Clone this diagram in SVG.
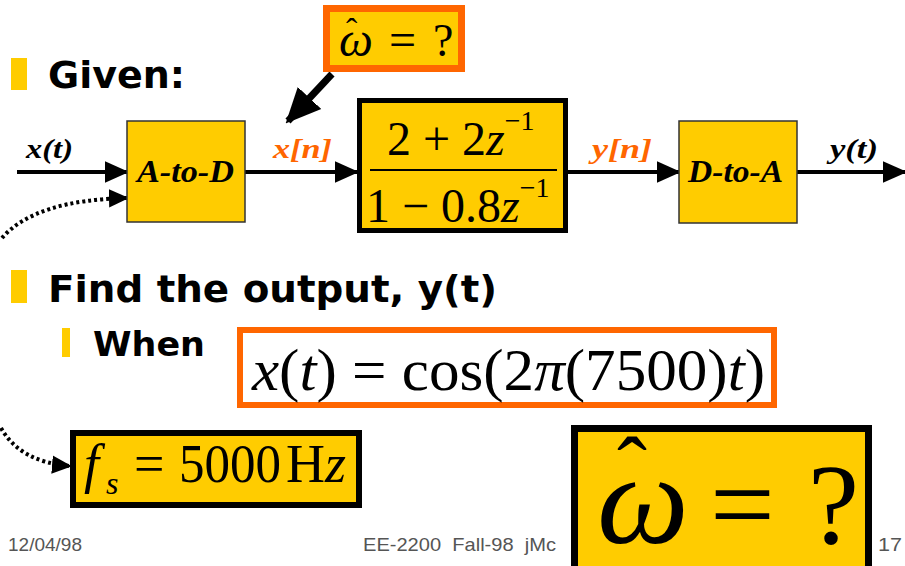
<svg xmlns="http://www.w3.org/2000/svg" width="905" height="566" viewBox="0 0 905 566">
<style>
.bul{fill:#FFCC00}
.head{font-family:"DejaVu Sans",sans-serif;font-weight:bold;fill:#000}
.blk{fill:#FFCC00;stroke:#333;stroke-width:1.5}
.blab{font-family:"Liberation Serif",serif;font-style:italic;font-weight:bold;font-size:31px;fill:#000}
.sig{font-family:"Liberation Serif",serif;font-style:italic;font-weight:bold;font-size:28px}
.math{font-family:"Liberation Serif",serif;fill:#000}
.it{font-style:italic}
.foot{font-family:"Liberation Sans",sans-serif;font-size:19px;fill:#555}
.wire{stroke:#000;stroke-width:4;fill:none}
.dot{stroke:#000;stroke-width:4;fill:none;stroke-dasharray:3 3}
</style>
<defs>
<marker id="ah" markerWidth="6" markerHeight="6" refX="5.5" refY="3" orient="auto" markerUnits="strokeWidth">
<path d="M0,0.3 L6,3 L0,5.7 z" fill="#000"/>
</marker>
<marker id="ahs" markerWidth="5" markerHeight="5" refX="4.5" refY="2.5" orient="auto" markerUnits="strokeWidth">
<path d="M0,0.2 L5,2.5 L0,4.8 z" fill="#000"/>
</marker>
</defs>

<g id="bullets">
<rect class="bul" x="11" y="58" width="16" height="32"/>
<text class="head" x="48" y="88" font-size="38" textLength="137" lengthAdjust="spacingAndGlyphs">Given:</text>
<rect class="bul" x="11" y="270" width="16" height="33"/>
<text class="head" x="48" y="302" font-size="38" textLength="449" lengthAdjust="spacingAndGlyphs">Find the output, y(t)</text>
<rect class="bul" x="62" y="328" width="8" height="29"/>
<text class="head" x="93" y="356" font-size="34" textLength="112" lengthAdjust="spacingAndGlyphs">When</text>
</g>

<g id="connectors">
<line class="wire" x1="17" y1="172" x2="127" y2="172" marker-end="url(#ah)"/>
<line class="wire" x1="245" y1="172" x2="357" y2="172" marker-end="url(#ah)"/>
<line class="wire" x1="568" y1="172" x2="679" y2="172" marker-end="url(#ah)"/>
<line class="wire" x1="797" y1="172" x2="905" y2="172" marker-end="url(#ah)"/>
<path class="dot" d="M2,238 Q35,200 127,198" marker-end="url(#ahs)"/>
<path class="dot" d="M1,428 Q20,462 70,466" marker-end="url(#ahs)"/>
<line stroke="#000" stroke-width="7" x1="332" y1="74" x2="288" y2="121" marker-end="url(#ahs)"/>
</g>

<g id="labels">
<text class="sig" x="26" y="158" fill="#000" textLength="47" lengthAdjust="spacingAndGlyphs">x(t)</text>
<text class="sig" x="273" y="158" fill="#FF6600" textLength="59" lengthAdjust="spacingAndGlyphs">x[n]</text>
<text class="sig" x="592" y="158" fill="#FF6600" textLength="60" lengthAdjust="spacingAndGlyphs">y[n]</text>
<text class="sig" x="830" y="158" fill="#000" textLength="48" lengthAdjust="spacingAndGlyphs">y(t)</text>
</g>

<g id="omega-small">
<rect x="326.5" y="8.5" width="135" height="60" fill="#FFCC00" stroke="#FF6600" stroke-width="7"/>
<text class="math it" x="339" y="56" font-size="48">ω</text>
<text class="math" x="346" y="42" font-size="34">ˆ</text>
<text class="math" x="389" y="56" font-size="48">=</text>
<text class="math" x="433" y="56" font-size="46">?</text>
</g>

<g id="atod">
<rect class="blk" x="127" y="121" width="118" height="101"/>
<text class="blab" x="137" y="182" textLength="97" lengthAdjust="spacingAndGlyphs">A-to-D</text>
</g>

<g id="filter">
<rect x="359.5" y="100.5" width="206" height="130" fill="#FFCC00" stroke="#000" stroke-width="5"/>
<line x1="370" y1="170" x2="557" y2="170" stroke="#000" stroke-width="2"/>
<text class="math" x="387" y="155" font-size="48">2 + 2<tspan class="it">z</tspan><tspan font-size="28" dy="-25">−1</tspan></text>
<text class="math" x="366" y="222" font-size="48">1 − 0.8<tspan class="it">z</tspan><tspan font-size="28" dy="-25">−1</tspan></text>
</g>

<g id="dtoa">
<rect class="blk" x="679" y="121" width="118" height="102"/>
<text class="blab" x="688" y="182" textLength="95" lengthAdjust="spacingAndGlyphs">D-to-A</text>
</g>

<g id="xeq">
<rect x="240" y="330" width="534" height="75" fill="#fff" stroke="#FF6600" stroke-width="6"/>
<text class="math" x="252" y="390" font-size="60" textLength="513" lengthAdjust="spacingAndGlyphs"><tspan class="it">x</tspan>(<tspan class="it">t</tspan>) = cos(2<tspan class="it">π</tspan>(7500)<tspan class="it">t</tspan>)</text>
</g>

<g id="fs">
<rect x="73" y="433" width="286" height="72" fill="#FFCC00" stroke="#000" stroke-width="6"/>
<text class="math it" x="84" y="482" font-size="54">f</text>
<text class="math it" x="106" y="494" font-size="32">s</text>
<text class="math" x="134" y="482" font-size="54">=</text>
<text class="math" x="179" y="482" font-size="54" textLength="102" lengthAdjust="spacingAndGlyphs">5000</text>
<text class="math" x="286" y="482" font-size="54">H<tspan class="it">z</tspan></text>
</g>

<g id="omega-big">
<rect x="574.5" y="428.5" width="294" height="142" fill="#FFCC00" stroke="#000" stroke-width="7"/>
<text class="math it" x="597" y="543" font-size="130">ω</text>
<text class="math" x="617" y="500" font-size="90">ˆ</text>
<text class="math" x="710" y="543" font-size="115">=</text>
<text class="math" x="808" y="543" font-size="115">?</text>
</g>

<g id="footer">
<text class="foot" x="8" y="551" textLength="74" lengthAdjust="spacingAndGlyphs">12/04/98</text>
<text class="foot" x="363" y="551" xml:space="preserve" textLength="193" lengthAdjust="spacingAndGlyphs">EE-2200  Fall-98  jMc</text>
<text class="foot" x="878" y="551" textLength="24" lengthAdjust="spacingAndGlyphs">17</text>
</g>
</svg>
